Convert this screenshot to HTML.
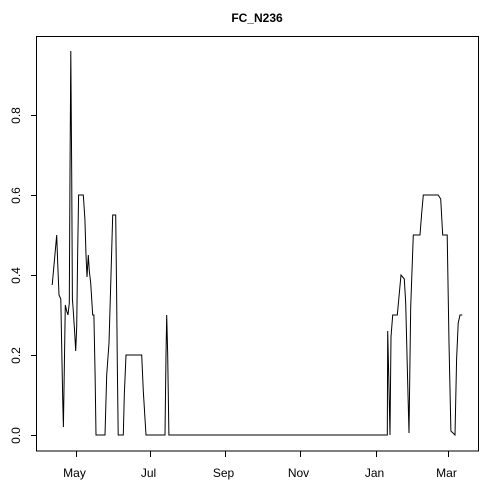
<!DOCTYPE html>
<html><head><meta charset="utf-8"><style>
body{margin:0;background:#fff}
svg{display:block;font-family:"Liberation Sans",Arial,sans-serif}
</style></head><body>
<svg id="chart" width="480" height="480">
<text x="257" y="22" text-anchor="middle" font-size="12" font-weight="bold">FC_N236</text>
<rect x="36.5" y="36.5" width="442" height="414.5" fill="none" stroke="#000" stroke-width="1"/>
<g id="yaxis"></g>
<g id="xaxis"></g>
<path id="line" fill="none" stroke="#000" stroke-width="1"/>
</svg>
<script>
const days=[14.8,18.4,19.2,20.3,21.7,23.3,23.8,25.4,26.5,27.6,28.6,29.2,29.8,30.6,31.1,31.9,33,33.8,34.6,35.4,36.2,40,41.3,42.2,43,44,44.8,46,47.6,48.6,49.5,50.3,57.6,58.9,60.8,62.4,63.8,66.2,67,67.5,68.3,72.4,73.2,74.6,87.3,88.6,90.8,106.2,107,107.6,108.4,109.4,286.4,286.7,287.5,288.6,289.4,290.8,294.5,297.5,300.2,301.3,302.9,304,305.4,307.5,312.9,314.3,315.6,327.7,329.7,331.3,335,336.4,338,341.3,342.6,343.9,345.3,347.2];
const values=[0.375,0.5,0.43,0.35,0.34,0.09,0.02,0.325,0.31,0.30,0.33,0.655,0.96,0.655,0.34,0.31,0.255,0.21,0.27,0.46,0.6,0.6,0.54,0.45,0.395,0.45,0.41,0.38,0.3,0.3,0.15,0,0,0.15,0.23,0.4,0.55,0.55,0.36,0.18,0,0,0.1,0.2,0.2,0.11,0,0,0.2,0.3,0.2,0,0,0.26,0.15,0,0.245,0.3,0.3,0.4,0.39,0.33,0.14,0.005,0.32,0.5,0.5,0.555,0.6,0.6,0.59,0.5,0.5,0.23,0.01,0,0.19,0.28,0.3,0.3];
const xTickDays=[34,94,155,216,277,336];
const xTickLabels=["May","Jul","Sep","Nov","Jan","Mar"];
const yTicks=[0,0.2,0.4,0.6,0.8];
const yTickLabels=["0.0","0.2","0.4","0.6","0.8"];
const NS="http://www.w3.org/2000/svg";
const xs=d=>71+(d-30)*1.2336;
const ys=v=>435-v*400;
let dstr="";
days.forEach((d,i)=>{dstr+=(i?"L":"M")+xs(d).toFixed(1)+","+ys(values[i]).toFixed(1);});
document.getElementById("line").setAttribute("d",dstr);
const ya=document.getElementById("yaxis");
yTicks.forEach((v,i)=>{
 const y=ys(v)+0.5;
 const l=document.createElementNS(NS,"line");
 l.setAttribute("x1",31);l.setAttribute("x2",36);l.setAttribute("y1",y);l.setAttribute("y2",y);l.setAttribute("stroke","#000");
 
 
 ya.appendChild(l);
 const t=document.createElementNS(NS,"text");
 t.setAttribute("transform","translate(20,"+y+") rotate(-90)");
 t.setAttribute("text-anchor","middle");t.setAttribute("font-size","12");t.setAttribute("fill","#000");
 t.textContent=yTickLabels[i];
 
 
 ya.appendChild(t);
});
const xa=document.getElementById("xaxis");
xTickDays.forEach((d,i)=>{
 const x=Math.round(xs(d))+0.5;
 const l=document.createElementNS(NS,"line");
 l.setAttribute("x1",x);l.setAttribute("x2",x);l.setAttribute("y1",451);l.setAttribute("y2",457);l.setAttribute("stroke","#000");
 
 
 xa.appendChild(l);
 const t=document.createElementNS(NS,"text");
 t.setAttribute("x",x-2);t.setAttribute("y",477);
 t.setAttribute("text-anchor","middle");t.setAttribute("font-size","12");t.setAttribute("fill","#000");
 t.textContent=xTickLabels[i];
 
 
 xa.appendChild(t);
});
</script>
</body></html>
